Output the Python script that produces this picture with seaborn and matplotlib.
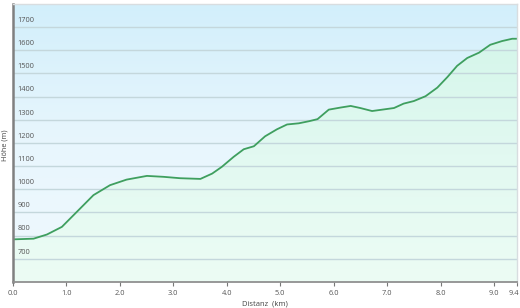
import numpy as np
import pandas as pd
import matplotlib
matplotlib.use("Agg")
import matplotlib.pyplot as plt
import matplotlib.transforms as mtransforms
from matplotlib.colors import LinearSegmentedColormap
import seaborn as sns

# ---- data ----
distance_km = [0.0, 0.39, 0.64, 0.92, 1.20, 1.51, 1.82, 2.13, 2.51, 2.82, 3.13,
               3.51, 3.73, 3.91, 4.13, 4.32, 4.51, 4.72, 4.94, 5.13, 5.35, 5.54,
               5.70, 5.91, 6.13, 6.32, 6.50, 6.72, 6.91, 7.13, 7.31, 7.50, 7.72,
               7.94, 8.13, 8.31, 8.50, 8.72, 8.93, 9.15, 9.34, 9.43]
elevation_m = [784, 787, 805, 838, 903, 975, 1018, 1042, 1058, 1054, 1048,
               1045, 1068, 1097, 1140, 1173, 1186, 1229, 1259, 1280, 1285, 1294,
               1303, 1344, 1353, 1360, 1351, 1338, 1344, 1351, 1370, 1381, 1402,
               1439, 1485, 1533, 1567, 1590, 1624, 1640, 1650, 1650]
x_ticks = [0.0, 1.0, 2.0, 3.0, 4.0, 5.0, 6.0, 7.0, 8.0, 9.0, 9.43]
x_tick_labels = ["0.0", "1.0", "2.0", "3.0", "4.0", "5.0", "6.0", "7.0", "8.0", "9.0", "9.4"]
y_grid = [700, 800, 900, 1000, 1100, 1200, 1300, 1400, 1500, 1600, 1700]
y_tick_labels = ["700", "800", "900", "1000", "1100", "1200", "1300", "1400", "1500", "1600", "1700"]

df = pd.DataFrame({"Distanz": distance_km, "Hoehe": elevation_m})

sns.set_theme(style="white")
plt.rcParams["font.family"] = ["Open Sans", "DejaVu Sans"]

fig = plt.figure(figsize=(5.2, 3.08), dpi=100)
ax = fig.add_axes([12.7 / 520, 1 - 282 / 308, (517 - 12.7) / 520, (282 - 4) / 308])

xmin, xmax, ymin, ymax = 0.0, 9.43, 600, 1800
ax.set_xlim(xmin, xmax)
ax.set_ylim(ymin, ymax)

grad = np.linspace(0, 1, 256).reshape(-1, 1)

# background gradient (blue top -> pale blue bottom)
bg_cmap = LinearSegmentedColormap.from_list("bg", ["#d2effb", "#e8f6fd", "#f0f9fd"])
ax.imshow(grad, extent=[xmin, xmax, ymin, ymax], origin="upper", cmap=bg_cmap,
          aspect="auto", zorder=0, interpolation="bilinear")

# fill under curve (mint gradient), clipped to the area below the line
poly = ax.fill_between(df["Distanz"], df["Hoehe"], ymin, color="none",
                       linewidth=0, zorder=1)
fill_cmap = LinearSegmentedColormap.from_list("fill", ["#d4f6ea", "#e2f9f1", "#ecfcf4"])
fim = ax.imshow(grad, extent=[xmin, xmax, ymin, 1700], origin="upper",
                cmap=fill_cmap, aspect="auto", zorder=1, interpolation="bilinear")
clip_path = poly.get_paths()[0]
fim.set_clip_path(clip_path, transform=ax.transData)

ax.set_xlim(xmin, xmax)
ax.set_ylim(ymin, ymax)

# gridlines
for g in y_grid:
    ax.axhline(g, color="#c4d7dc", linewidth=1.0, zorder=2)

sns.lineplot(data=df, x="Distanz", y="Hoehe", ax=ax, color="#3f9f5f",
             linewidth=1.3, zorder=3)

# y labels inside plot, above gridlines
trans = mtransforms.blended_transform_factory(ax.transAxes, ax.transData)
for g, lab in zip(y_grid, y_tick_labels):
    ax.text(4.5 / 504, g + 14, lab, transform=trans, fontsize=5.3, color="#555555",
            ha="left", va="bottom", zorder=4)
ax.set_yticks([])

ax.set_xticks(x_ticks)
ax.set_xticklabels(x_tick_labels, fontsize=5.3, color="#555555")
ax.tick_params(axis="x", direction="out", length=3, width=0.8, color="#777777", pad=3,
               bottom=True)
last = ax.get_xticklabels()[-1]
last.set_ha("right")
last.set_transform(last.get_transform() + mtransforms.ScaledTranslation(2 / 100, 0, fig.dpi_scale_trans))

ax.set_xlabel("Distanz  (km)", fontsize=5.5, color="#444444", labelpad=2)
ax.set_ylabel("")
fig.text(5.5 / 520, 1 - 145 / 308, "Höhe (m)", rotation=90, fontsize=5.3,
         color="#444444", ha="center", va="center")

for side in ["top", "right"]:
    ax.spines[side].set_color("#d8dde0")
    ax.spines[side].set_linewidth(1.0)
ax.spines["left"].set_color("#808080")
ax.spines["left"].set_linewidth(1.8)
ax.spines["bottom"].set_color("#909090")
ax.spines["bottom"].set_linewidth(1.3)
for s in ax.spines.values():
    s.set_zorder(5)

fig.savefig("out.png", dpi=100)
